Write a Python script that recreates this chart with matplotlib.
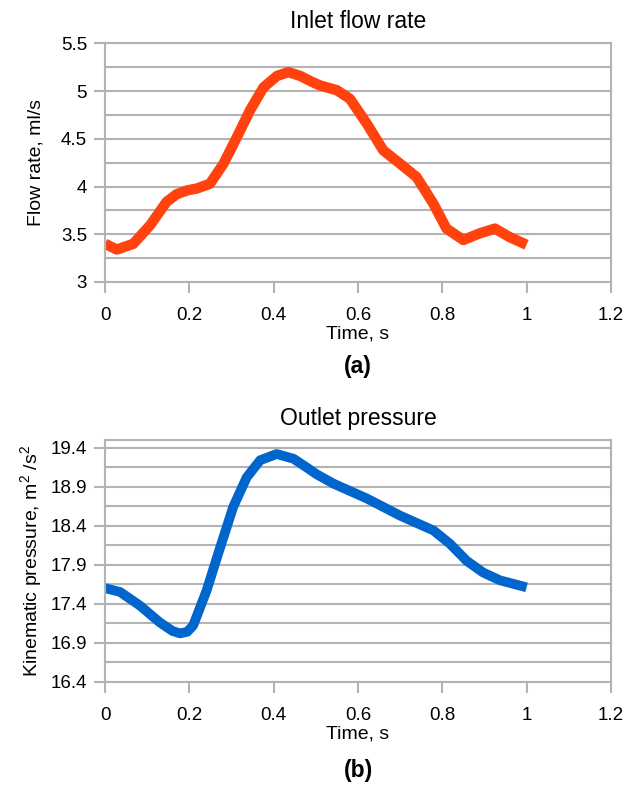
import matplotlib
matplotlib.use("Agg")
import matplotlib.pyplot as plt
import numpy as np

plt.rcParams['font.family'] = ['Liberation Sans', 'DejaVu Sans']
plt.rcParams['mathtext.fontset'] = 'custom'
plt.rcParams['mathtext.rm'] = 'Liberation Sans'
plt.rcParams['mathtext.it'] = 'Liberation Sans:italic'
plt.rcParams['mathtext.default'] = 'regular'

# inlet flow rate, ml/s
t_in = [0, 0.028, 0.067, 0.107, 0.146, 0.17, 0.195, 0.218, 0.249, 0.281, 0.313, 0.344,
        0.376, 0.408, 0.435, 0.463, 0.49, 0.51, 0.55, 0.581, 0.621, 0.66, 0.70,
        0.739, 0.779, 0.81, 0.85, 0.889, 0.925, 0.96, 1.0]
q_in = [3.40, 3.34, 3.40, 3.595, 3.84, 3.92, 3.96, 3.98, 4.03, 4.24, 4.52, 4.80,
        5.04, 5.16, 5.20, 5.16, 5.10, 5.06, 5.01, 4.92, 4.66, 4.38, 4.24,
        4.10, 3.82, 3.56, 3.44, 3.51, 3.56, 3.47, 3.39]

# outlet kinematic pressure, m2/s2
t_out = [0, 0.036, 0.083, 0.13, 0.16, 0.178, 0.195, 0.209, 0.241, 0.273, 0.304, 0.336, 0.368,
         0.407, 0.447, 0.475, 0.502, 0.542, 0.621, 0.70, 0.779, 0.818, 0.858,
         0.897, 0.937, 1.0]
p_out = [17.60, 17.55, 17.375, 17.16, 17.05, 17.02, 17.04, 17.12, 17.57, 18.12, 18.64, 19.02, 19.24,
         19.32, 19.26, 19.16, 19.06, 18.94, 18.75, 18.53, 18.34, 18.17, 17.95,
         17.80, 17.70, 17.61]

GRID = '#b3b3b3'

fig = plt.figure(figsize=(6.35, 7.85), dpi=100)
ax1 = fig.add_axes([0.1654, 0.6408, 0.7966, 0.3038])
ax2 = fig.add_axes([0.1654, 0.1316, 0.7966, 0.3079])


def style(ax, ymin, ymax, ytop):
    ax.set_xlim(0, 1.2)
    ax.set_ylim(ymin, ytop)
    ax.set_xticks(np.arange(0, 1.21, 0.2))
    ax.set_xticklabels(['0', '0.2', '0.4', '0.6', '0.8', '1', '1.2'])
    major = np.arange(ymin, ymax + 0.01, 0.5)
    minor = np.arange(ymin, ytop + 0.001, 0.25)
    ax.set_yticks(major)
    ax.set_yticks(minor, minor=True)
    ax.yaxis.grid(True, which='both', color=GRID, linewidth=1.5)
    ax.tick_params(axis='y', which='minor', length=0)
    ax.tick_params(axis='both', which='major', color=GRID, width=1.5, length=8,
                   labelsize=13.5, direction='out')
    ax.tick_params(axis='x', pad=10)
    ax.tick_params(axis='y', pad=5)
    for s in ax.spines.values():
        s.set_color(GRID)
        s.set_linewidth(1.5)
    ax.set_axisbelow(True)


style(ax1, 3, 5.5, 5.5)
ax1.set_yticklabels(['3', '3.5', '4', '4.5', '5', '5.5'])
ax1.plot(t_in, q_in, color='#ff420e', linewidth=7.5, solid_capstyle='butt',
         solid_joinstyle='round')
ax1.set_title('Inlet flow rate', fontsize=16.5, pad=11)
ax1.set_ylabel('Flow rate, ml/s', fontsize=14, labelpad=12)
ax1.set_xlabel('Time, s', fontsize=14, labelpad=1)

style(ax2, 16.4, 19.4, 19.5)
ax2.set_yticklabels(['%.1f' % v for v in np.arange(16.4, 19.41, 0.5)])
ax2.plot(t_out, p_out, color='#0066cc', linewidth=7, solid_capstyle='butt',
         solid_joinstyle='round')
ax2.set_title('Outlet pressure', fontsize=16.5, pad=11)
ax2.set_ylabel('Kinematic pressure, m$^2$ /s$^2$', fontsize=14, labelpad=5)
ax2.set_xlabel('Time, s', fontsize=14, labelpad=1)

fig.text(0.5638, 1 - 367 / 785, '(a)', fontsize=16.5, fontweight='bold', ha='center', va='center')
fig.text(0.5638, 1 - 771 / 785, '(b)', fontsize=16.5, fontweight='bold', ha='center', va='center')

fig.savefig('out.png', dpi=100)
